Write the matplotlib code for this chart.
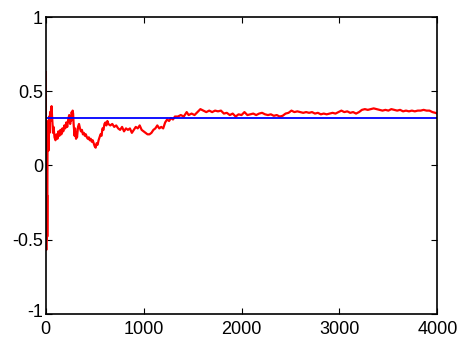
import matplotlib
matplotlib.use("Agg")
import matplotlib.pyplot as plt
from matplotlib.transforms import ScaledTranslation

x_vals = [0, 2, 4, 6, 8, 10, 12, 14, 16, 18, 20, 24, 28, 32, 36, 40, 45, 50, 55, 60,
          65, 70, 75, 80, 90, 100, 110, 120, 130, 140, 150, 160, 170, 180, 190, 200,
          210, 220, 230, 240, 250, 255, 260, 265, 270, 275, 280, 285, 290, 295, 300,
          305, 310, 315, 320, 330, 340, 350, 360, 370, 380, 390, 400, 410, 420, 430,
          440, 450, 460, 470, 480, 490, 500, 510, 520, 530, 540, 550, 560, 570, 580,
          590, 600, 610, 620, 630, 640, 660, 680, 700, 720, 740, 760, 780, 800, 820,
          840, 860, 880, 900, 920, 940, 960, 980, 1000, 1020, 1040, 1060, 1080, 1100,
          1120, 1140, 1160, 1180, 1200, 1220, 1240, 1260, 1280, 1300, 1320, 1350, 1380,
          1410, 1440, 1460, 1490, 1520, 1550, 1580, 1610, 1640, 1670, 1700, 1730, 1760,
          1790, 1820, 1850, 1880, 1910, 1940, 1970, 2000, 2030, 2060, 2090, 2120, 2150,
          2180, 2210, 2240, 2270, 2300, 2330, 2360, 2390, 2420, 2450, 2480, 2510, 2540,
          2570, 2600, 2630, 2660, 2690, 2720, 2750, 2780, 2810, 2840, 2870, 2900, 2930,
          2960, 2990, 3020, 3050, 3080, 3110, 3140, 3170, 3200, 3230, 3260, 3290, 3320,
          3350, 3380, 3410, 3440, 3470, 3500, 3530, 3560, 3590, 3620, 3650, 3680, 3710,
          3740, 3770, 3800, 3830, 3860, 3890, 3920, 3950, 3980, 4000]

estimate = [0.63, 0.2, -0.3, -0.57, -0.1, -0.45, -0.5, -0.2, -0.48, 0.05, 0.2, 0.3, 0.1,
            0.28, 0.33, 0.22, 0.36, 0.3, 0.38, 0.40, 0.33, 0.28, 0.22, 0.26, 0.19, 0.17,
            0.21, 0.18, 0.23, 0.2, 0.24, 0.21, 0.25, 0.23, 0.27, 0.25, 0.29, 0.26, 0.31,
            0.34, 0.28, 0.33, 0.30, 0.36, 0.34, 0.37, 0.35, 0.28, 0.24, 0.20, 0.25, 0.21,
            0.18, 0.22, 0.19, 0.26, 0.28, 0.25, 0.23, 0.24, 0.21, 0.22, 0.20, 0.21, 0.19,
            0.18, 0.19, 0.17, 0.18, 0.16, 0.17, 0.15, 0.13, 0.12, 0.15, 0.14, 0.17, 0.19,
            0.21, 0.20, 0.25, 0.24, 0.28, 0.29, 0.27, 0.30, 0.28, 0.27, 0.28, 0.26, 0.27,
            0.25, 0.24, 0.26, 0.23, 0.25, 0.24, 0.25, 0.22, 0.24, 0.26, 0.25, 0.27, 0.24,
            0.23, 0.22, 0.21, 0.21, 0.22, 0.24, 0.25, 0.27, 0.25, 0.26, 0.25, 0.29, 0.31,
            0.30, 0.32, 0.31, 0.33, 0.33, 0.34, 0.33, 0.36, 0.34, 0.35, 0.34, 0.36, 0.38,
            0.37, 0.36, 0.37, 0.36, 0.37, 0.365, 0.37, 0.35, 0.355, 0.34, 0.35, 0.33,
            0.345, 0.34, 0.36, 0.34, 0.345, 0.35, 0.34, 0.35, 0.355, 0.345, 0.34, 0.345,
            0.335, 0.34, 0.33, 0.335, 0.35, 0.355, 0.37, 0.36, 0.365, 0.36, 0.355, 0.36,
            0.355, 0.36, 0.35, 0.355, 0.345, 0.35, 0.345, 0.35, 0.355, 0.35, 0.36, 0.37,
            0.36, 0.365, 0.355, 0.36, 0.35, 0.36, 0.375, 0.38, 0.375, 0.38, 0.385, 0.38,
            0.375, 0.37, 0.375, 0.37, 0.38, 0.375, 0.37, 0.375, 0.365, 0.37, 0.365, 0.37,
            0.365, 0.37, 0.37, 0.375, 0.37, 0.37, 0.36, 0.355, 0.35]

true_x = [0, 4000]
true_value = [0.318, 0.318]

x_ticks = [0, 1000, 2000, 3000, 4000]
y_ticks = [-1, -0.5, 0, 0.5, 1]
y_tick_labels = ["-1", "-0.5", "0", "0.5", "1"]

plt.rcParams['font.family'] = ['Liberation Sans', 'DejaVu Sans']

fig = plt.figure(figsize=(4.64, 3.38), dpi=100)
ax = fig.add_axes([0.0985, 0.072, 0.844, 0.877])
ax.plot(x_vals, estimate, color='#ff0000', linewidth=1.6)
ax.plot(true_x, true_value, color='#0000ff', linewidth=1.3)

ax.set_xlim(0, 4000)
ax.set_ylim(-1, 1)
ax.set_xticks(x_ticks)
ax.set_xticklabels([str(t) for t in x_ticks])
ax.set_yticks(y_ticks)
ax.set_yticklabels(y_tick_labels)
ax.tick_params(direction='in', length=4, width=0.8, top=True, right=True,
               labelsize=13, colors='black')
ax.tick_params(axis='x', pad=5)
ax.tick_params(axis='y', pad=2)
for s in ax.spines.values():
    s.set_linewidth(1.2)
    s.set_color('black')

fig.canvas.draw()
ylabels = ax.get_yticklabels()
ylabels[0].set_transform(ylabels[0].get_transform() +
                         ScaledTranslation(0, 3 / 100, fig.dpi_scale_trans))

fig.savefig('out.png', dpi=100)
